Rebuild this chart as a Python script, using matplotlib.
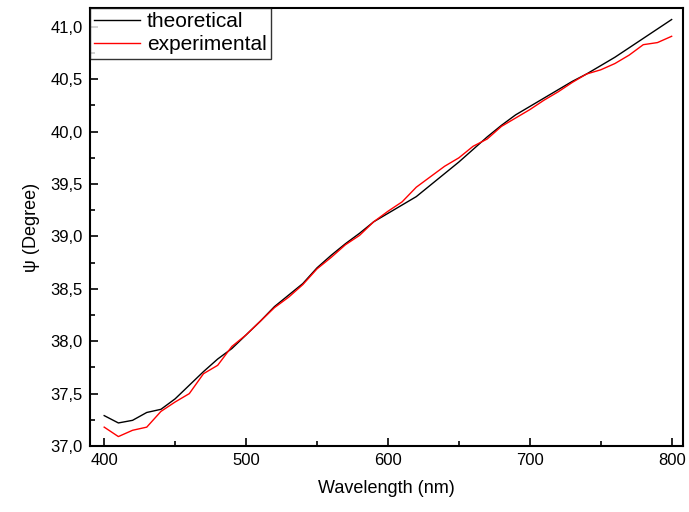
import matplotlib
matplotlib.use("Agg")
import matplotlib.pyplot as plt
from matplotlib.ticker import MultipleLocator, FuncFormatter

wavelength = list(range(400, 801, 10))
theoretical = [37.29, 37.22, 37.245, 37.32, 37.35, 37.45, 37.58, 37.71, 37.83, 37.93,
               38.06, 38.19, 38.33, 38.44, 38.55, 38.70, 38.82, 38.93, 39.03, 39.14,
               39.22, 39.30, 39.38, 39.49, 39.60, 39.71, 39.83, 39.95, 40.06, 40.16,
               40.24, 40.32, 40.40, 40.48, 40.55, 40.63, 40.71, 40.80, 40.89, 40.98, 41.07]
experimental = [37.18, 37.09, 37.15, 37.18, 37.33, 37.42, 37.50, 37.69, 37.77, 37.95,
                38.06, 38.19, 38.32, 38.42, 38.54, 38.69, 38.80, 38.92, 39.01, 39.14,
                39.24, 39.33, 39.47, 39.57, 39.67, 39.75, 39.86, 39.93, 40.05, 40.13,
                40.21, 40.30, 40.38, 40.47, 40.55, 40.59, 40.65, 40.73, 40.83, 40.85, 40.91]

plt.rcParams['font.family'] = ['Liberation Sans', 'DejaVu Sans']

fig = plt.figure(figsize=(6.89, 5.12), dpi=100)
ax = fig.add_axes([90/689, 1-446/512, (683-90)/689, (446-8)/512])

ax.plot(wavelength, theoretical, color='black', lw=1.0, label='theoretical')
ax.plot(wavelength, experimental, color='red', lw=1.0, label='experimental')

ax.set_xlim(390, 808)
ax.set_ylim(37.0, 41.18)
ax.xaxis.set_major_locator(MultipleLocator(100))
ax.xaxis.set_minor_locator(MultipleLocator(50))
ax.yaxis.set_major_locator(MultipleLocator(0.5))
ax.yaxis.set_minor_locator(MultipleLocator(0.25))
ax.yaxis.set_major_formatter(FuncFormatter(lambda v, p: f"{v:.1f}".replace('.', ',')))

ax.tick_params(which='both', direction='in', top=False, right=False, labelsize=12, width=1.2)
ax.tick_params(which='major', length=6, pad=5)
ax.tick_params(which='minor', length=3.5)
for s in ax.spines.values():
    s.set_linewidth(1.5)

ax.set_xlabel('Wavelength (nm)', fontsize=13, labelpad=9)
ax.set_ylabel('ψ (Degree)', fontsize=13, labelpad=8)

leg = ax.legend(loc='upper left', fontsize=15, frameon=True, fancybox=False,
                borderaxespad=0, handlelength=2.2, handletextpad=0.33,
                borderpad=0.2, labelspacing=0.2)
leg.get_frame().set_edgecolor('black')
leg.get_frame().set_linewidth(1.0)

fig.savefig('out.png', dpi=100)
